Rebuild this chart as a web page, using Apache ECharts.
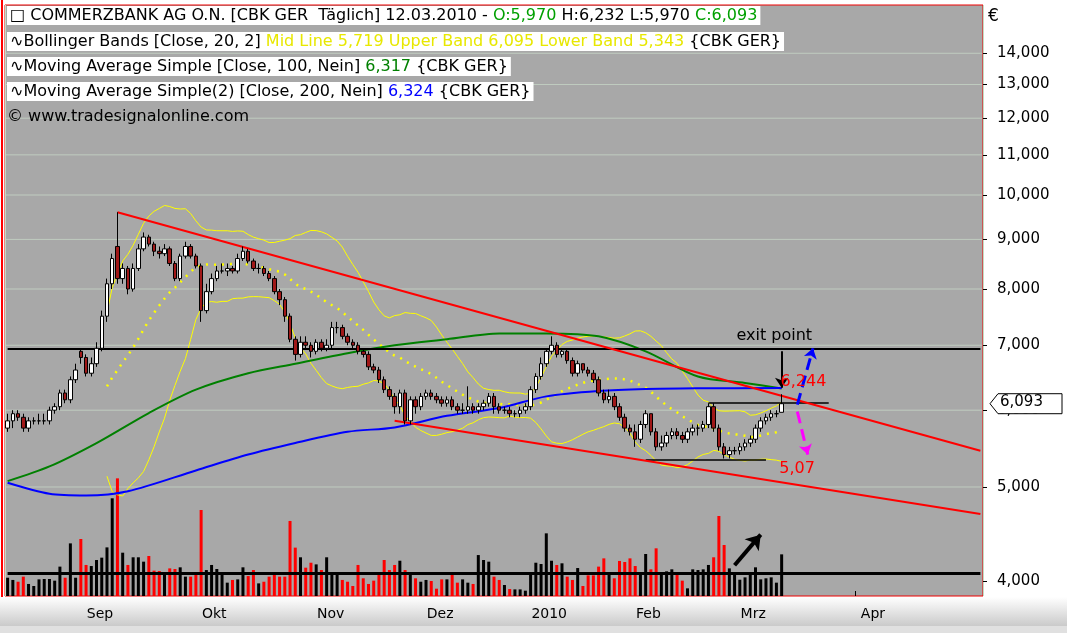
<!DOCTYPE html>
<html><head><meta charset="utf-8">
<script src="https://cdn.jsdelivr.net/npm/echarts@6/dist/echarts.min.js"></script>
<style>html,body{margin:0;padding:0;background:#fff}#c{width:1067px;height:633px}</style>
</head><body><div id="c"></div>
<script>
// ---- DATA ----
const opens = [5750,5850,5950,5900,5750,5850,5850,5850,5850,6000,6050,6250,6150,6450,
6900,6800,6550,6700,6950,7500,8100,8850,8200,8400,8000,8400,8800,9050,8900,8750,8700,8800,8500,8200,8650,8850,
8650,8450,7600,7950,8200,8350,8350,8400,8350,8600,8750,8550,8400,8400,8300,8200,7950,7800,7500,7100,6850,7050,
7000,6900,7050,6950,7000,7300,7300,7150,7050,7000,6900,6850,6650,6600,6450,6300,6200,6050,6250,5850,6150,
6050,6200,6250,6200,6150,6100,6150,6050,6000,6000,6050,6000,6050,6100,6200,6050,6000,6000,5950,5950,
6000,6050,6300,6500,6700,6900,7000,6850,6900,6750,6550,6700,6600,6550,6450,6250,6150,6200,6050,5900,
5750,5700,5600,5800,5950,5700,5500,5550,5650,5700,5650,5600,5700,5750,5750,5800,6050,5750,5500,5400,
5450,5450,5500,5550,5600,5750,5850,5900,5950,5970];
const closes = [5850,5950,5900,5750,5850,5850,5850,5850,6000,6050,6250,6150,6450,6600,
6800,6550,6700,6950,7500,8100,8600,8200,8400,8000,8400,8800,9050,8900,8750,8700,8800,8500,8200,8650,8850,8650,
8450,7600,7950,8200,8350,8350,8400,8350,8600,8750,8550,8400,8400,8300,8200,7950,7800,7500,7100,6850,7050,7000,
6900,7050,6950,7000,7300,7300,7150,7050,7000,6900,6850,6650,6600,6450,6300,6200,6050,6250,5850,6150,6050,
6200,6250,6200,6150,6100,6150,6050,6000,6000,6050,6000,6050,6100,6200,6050,6000,6000,5950,5950,6000,
6050,6300,6500,6700,6900,7000,6850,6900,6750,6550,6700,6600,6550,6450,6250,6150,6200,6050,5900,5750,
5700,5600,5800,5950,5700,5500,5550,5650,5700,5650,5600,5700,5750,5750,5800,6050,5750,5500,5400,5450,
5450,5500,5550,5600,5750,5850,5900,5950,5950,6093];
const highs = [5950,6000,6000,5950,5900,5900,5950,5950,6050,6100,6300,6300,6500,6700,
6950,6850,6800,7050,7600,8200,8700,9600,8500,8450,8500,8900,9150,9100,8950,8850,8900,8850,8550,8700,8950,8900,
8700,8500,8100,8300,8450,8500,8500,8450,8700,8850,8800,8600,8500,8450,8350,8250,8000,7850,7550,7150,7150,7150,
7050,7100,7100,7100,7400,7400,7350,7200,7100,7050,6950,6900,6700,6650,6500,6350,6250,6300,6300,6200,6200,
6250,6300,6300,6250,6200,6200,6200,6100,6100,6350,6100,6100,6150,6250,6250,6100,6050,6050,6000,6050,
6100,6350,6550,6800,6950,7150,7050,6950,6950,6800,6750,6700,6650,6600,6500,6300,6300,6250,6100,5950,
5800,5800,5850,6000,5950,5750,5650,5700,5750,5750,5700,5750,5800,5800,5850,6100,6100,5800,5550,5500,
5500,5550,5600,5650,5800,5900,5950,6000,6000,6232];
const lows = [5700,5750,5850,5700,5700,5800,5800,5800,5800,5950,6000,6100,6100,6400,
6700,6500,6500,6650,6900,7400,8000,8100,8100,7900,7950,8350,8750,8850,8650,8600,8650,8450,8150,8150,8600,8600,
8400,7400,7550,7900,8150,8300,8250,8300,8300,8550,8500,8350,8300,8250,8150,7900,7700,7400,7050,6750,6800,6950,
6800,6850,6900,6900,6950,7200,7100,7000,6950,6850,6800,6600,6550,6400,6250,6150,5950,5950,5800,5800,5950,
6000,6150,6150,6100,6050,6050,6000,5950,5950,5950,5950,5950,6000,6050,5950,5950,5950,5900,5900,5900,
5950,6000,6250,6450,6650,6850,6800,6800,6700,6500,6500,6550,6500,6400,6200,6100,6100,6000,5850,5700,
5650,5500,5550,5750,5650,5450,5450,5500,5600,5600,5550,5550,5650,5650,5700,5750,5700,5450,5350,5350,
5400,5400,5450,5500,5550,5700,5800,5850,5900,5970];
const volumes = [15.5,13.6,12.1,16.4,10.2,8.5,14.1,14.4,14.4,13,24.9,15.5,44.6,15.5,48.3,26.3,25.4,30.5,32.5,41.2,
82.8,99.7,36.7,26.3,32.8,32.8,29.1,33.9,21.5,21.2,19.8,23.4,22.9,24.3,16.4,16.4,19.2,72.9,22,26.3,
22.9,17.8,11.3,13.6,14.1,24.3,16.9,22,10.7,12.1,16.4,18.6,16.4,16.4,63.6,41,32.8,24,28.2,26.8,
22,32.8,18.4,17.8,13.6,12.1,8.5,26.3,15,10.2,13,19.2,30.5,22,26.3,29.9,22,17.8,15,12.1,
13.6,12.7,6.2,14.1,14.1,18.1,11.3,14.1,11.3,10.2,34.7,30.5,29.1,16.4,13.6,9.3,5.9,5.6,5.6,4.5,
17.8,28.2,27.1,53.1,29.9,26.3,27.7,16.4,13.6,23.7,8.5,17.5,17.5,24.9,31.9,17.8,15,29.7,28.8,31.9,
25.4,20.1,35.6,22.6,40.4,17.8,20.9,22.6,19.2,13,6.5,22.6,22,22.6,26.3,32.8,67.8,43.2,23.4,17.8,
13.8,15.8,20.3,24.3,14.1,15,15.8,11.3,35.3];
const ma100 = [[0,5070],[8,5250],[17,5550],[27,5960],[36,6300],[46,6550],[55,6700],[65,6870],[74,7000],[84,7100],[94,7200],[103,7200],[113,7150],[122,6900],[132,6500],[141,6400],[148,6317]];
const ma200 = [[0,5050],[8,4920],[15,4900],[23,4950],[36,5200],[46,5400],[55,5550],[65,5700],[74,5760],[84,5920],[94,6030],[103,6200],[113,6280],[122,6310],[132,6320],[148,6324]];
const yTicks = [4000,5000,6000,7000,8000,9000,10000,11000,12000,13000,14000];
const monthNames = {9:'Sep',10:'Okt',11:'Nov',12:'Dez',1:'2010',2:'Feb',3:'Mrz',4:'Apr'};
const holidays = ['2009-12-24','2009-12-25','2009-12-31','2010-01-01','2010-04-02','2010-04-05'];
const nCats = 187;

// ---- categories (trading days) ----
const dates=[]; {let d=new Date(Date.UTC(2009,7,12));
 while(dates.length<nCats){const wd=d.getUTCDay();const s=d.toISOString().slice(0,10);
  if(wd!==0&&wd!==6&&!holidays.includes(s))dates.push(s); d=new Date(d.getTime()+86400000);} }
const monthStart = dates.map((s,i)=> i>0 && s.slice(5,7)!==dates[i-1].slice(5,7) && monthNames[+s.slice(5,7)]!==undefined);

const candle = opens.map((o,i)=>[o,closes[i],lows[i],highs[i]]);
const volData = volumes.map((v,i)=>({value:v,itemStyle:{color: closes[i]<opens[i]?'#ff0000':'#000'}}));
// Bollinger (20,2)
const up=[],mid=[],lo=[];
closes.forEach((c,i)=>{ if(i<19){up.push(null);mid.push(null);lo.push(null);return;}
 const w=closes.slice(i-19,i+1);const m=w.reduce((a,b)=>a+b,0)/20;
 const sd=Math.sqrt(w.reduce((a,b)=>a+(b-m)*(b-m),0)/20);
 up.push(m+2*sd);mid.push(m);lo.push(m-2*sd);});

const chart = echarts.init(document.getElementById('c'));
const S = (color,w,type)=>({color,width:w,type:type||'solid'});
const option = {
 animation:false,
 backgroundColor:'#fff',
 grid:[{left:5,right:84,top:5,bottom:37,show:true,backgroundColor:'#a8a8a8',borderColor:'#e00',borderWidth:1},
       {left:5,right:84,top:478,bottom:37}],
 xAxis:[{type:'category',data:dates,gridIndex:0,boundaryGap:true,
   axisLine:{show:false},
   axisTick:{show:true,interval:(i)=>monthStart[i],length:5,inside:true,lineStyle:{color:'#000'},alignWithLabel:true},
   axisLabel:{interval:(i)=>monthStart[i],formatter:(v)=>monthNames[+v.slice(5,7)]||'',
     align:'left',padding:[0,0,0,6],margin:11,fontFamily:'DejaVu Sans',fontSize:14,color:'#000'},
   splitLine:{show:true,interval:(i)=>dates[i]==='2010-01-04',lineStyle:{color:'#c4dcc4',width:1}}},
  {type:'category',data:dates,gridIndex:1,boundaryGap:true,show:false}],
 yAxis:[{type:'log',gridIndex:0,position:'right',min:3860,max:15700,logBase:10,
   axisLine:{show:false},axisTick:{show:true,customValues:yTicks,length:4,lineStyle:{color:'#000'}},
   axisLabel:{customValues:yTicks,formatter:(v)=>Math.round(v).toLocaleString('en-US'),
     fontFamily:'DejaVu Sans',fontSize:15,color:'#000',margin:14},
   splitLine:{show:false}},
  {type:'value',gridIndex:1,min:0,max:100,show:false}],
 series:[
  {type:'line',data:up,symbol:'none',lineStyle:{color:'#ffff00',width:1},z:3},
  {type:'line',data:lo,symbol:'none',lineStyle:{color:'#ffff00',width:1},z:3},
  {type:'line',data:mid,symbol:'none',lineStyle:{color:'#ffff00',width:2.5,type:[2,6]},z:3},
  {type:'line',data:ma100,symbol:'none',smooth:0.3,lineStyle:{color:'#008000',width:2},z:4},
  {type:'line',data:ma200,symbol:'none',smooth:0.3,lineStyle:{color:'#0000ff',width:2},z:4},
  {type:'candlestick',data:candle,barWidth:4,z:5,
   itemStyle:{color:'#ffffff',color0:'#a01818',borderColor:'#000',borderColor0:'#000',borderWidth:1},
   markLine:{silent:true,animation:false,label:{show:false},symbol:['none','none'],lineStyle:S('#000',2),data:[
     [{coord:[0,6950]},{coord:[186,6950]}],
     [{coord:[134,6100],lineStyle:S('#000',1.5)},{coord:[157,6100]}],
     [{coord:[122,5330],lineStyle:S('#000',1.5)},{coord:[145,5330]}]
   ]}},
  {type:'line',data:[],z:6,markLine:{silent:true,animation:false,label:{show:false},symbol:['none','none'],
     lineStyle:S('#ff0000',2),data:[[{coord:[21,9600]},{coord:[186,5450]}],[{coord:[74,5850]},{coord:[186,4690]}]]}},
  {type:'line',data:[],z:7,markLine:{silent:true,animation:false,label:{show:false},symbol:['none','arrow'],symbolSize:10,
     data:[[{coord:[148,6900],lineStyle:S('#000',2)},{coord:[148,6330]}],
           [{coord:[151,6080],lineStyle:S('#0000ff',3,'dashed')},{coord:[154,6950]}],
           [{coord:[151,5980],lineStyle:S('#ff00ff',3,'dashed')},{coord:[153,5400]}]]}},
  {type:'bar',xAxisIndex:1,yAxisIndex:1,data:volData,barWidth:3,z:2,
   markLine:{silent:true,animation:false,label:{show:false},symbol:['none','arrow'],symbolSize:14,
     data:[[{coord:[139,26],lineStyle:S('#000',4)},{coord:[144,52]}],
           [{coord:[0,19],symbol:'none',lineStyle:S('#000',3)},{coord:[186,19],symbol:'none'}]]}}
 ]
};
chart.setOption(option);

const px=(i,v)=>chart.convertToPixel({xAxisIndex:0,yAxisIndex:0},[i,v]);
const pExit=px(147,7130), p624=px(152,6390), p507=px(151,5200), pLast=px(0,6093);
const gridLines = yTicks.slice(1).map(v=>{const y=px(0,v)[1];return {type:'line',shape:{x1:6,y1:y,x2:982,y2:y},style:{stroke:'#c0ccc0',lineWidth:1},silent:true,z:0};});
const F='DejaVu Sans';
const hs = {fontFamily:F,fontSize:16,fill:'#000',backgroundColor:'#fff',padding:[2,3,1,3]};
chart.setOption({graphic:[
 {type:'rect',shape:{x:0,y:597,width:1067,height:30},style:{fill:new echarts.graphic.LinearGradient(0,0,0,1,[{offset:0,color:'#ffffff'},{offset:1,color:'#c8c8c8'}])},z:-1,silent:true},
 {type:'rect',shape:{x:0,y:626,width:1067,height:7},style:{fill:'#e0e0e0'},silent:true},
 {type:'line',shape:{x1:2,y1:0,x2:2,y2:597},style:{stroke:'#ff0000',lineWidth:2},silent:true},
 {type:'text',left:988,top:8,style:{text:'€',fontFamily:F,fontSize:17,fill:'#000'}},
 {type:'text',left:p624[0]-22,top:p624[1]-10,z:50,style:{text:'6,244',fontFamily:F,fontSize:16,fill:'#ff0000'}},
 {type:'text',left:p507[0]-18,top:p507[1]-10,z:50,style:{text:'5,07',fontFamily:F,fontSize:16,fill:'#ff0000'}},
 {type:'text',left:pExit[0]-40,top:pExit[1]-10,z:50,style:{text:'exit point',fontFamily:F,fontSize:16,fill:'#000'}},
 {type:'polygon',shape:{points:[[990,pLast[1]],[998,pLast[1]-10],[1062,pLast[1]-10],[1062,pLast[1]+10],[998,pLast[1]+10]]},style:{fill:'#fff',stroke:'#000',lineWidth:1},z:60},
 {type:'text',left:1000,top:pLast[1]-9,z:61,style:{text:'6,093',fontFamily:F,fontSize:15,fill:'#000'}},
 {type:'text',left:7,top:6,z:100,style:Object.assign({},hs,{text:'{b|□ COMMERZBANK AG O.N. [CBK GER  Täglich] 12.03.2010 - }{g|O:5,970 }{b|H:6,232 L:5,970 }{g|C:6,093}',
   rich:{b:{fill:'#000',fontSize:16,fontFamily:F},g:{fill:'#00a000',fontSize:16,fontFamily:F}}})},
 {type:'text',left:7,top:32,z:100,style:Object.assign({},hs,{text:'∿Bollinger Bands [Close, 20, 2] {y|Mid Line 5,719 Upper Band 6,095 Lower Band 5,343} {CBK GER}',
   rich:{y:{fill:'#e8e800',fontSize:16,fontFamily:F}}})},
 {type:'text',left:7,top:57,z:100,style:Object.assign({},hs,{text:'∿Moving Average Simple [Close, 100, Nein] {g|6,317} {CBK GER}',
   rich:{g:{fill:'#008000',fontSize:16,fontFamily:F}}})},
 {type:'text',left:7,top:82,z:100,style:Object.assign({},hs,{text:'∿Moving Average Simple(2) [Close, 200, Nein] {u|6,324} {CBK GER}',
   rich:{u:{fill:'#0000ff',fontSize:16,fontFamily:F}}})},
 {type:'text',left:7,top:109,z:100,style:{text:'© www.tradesignalonline.com',fontFamily:F,fontSize:16,fill:'#000'}}
].concat(gridLines)});
</script></body></html>
